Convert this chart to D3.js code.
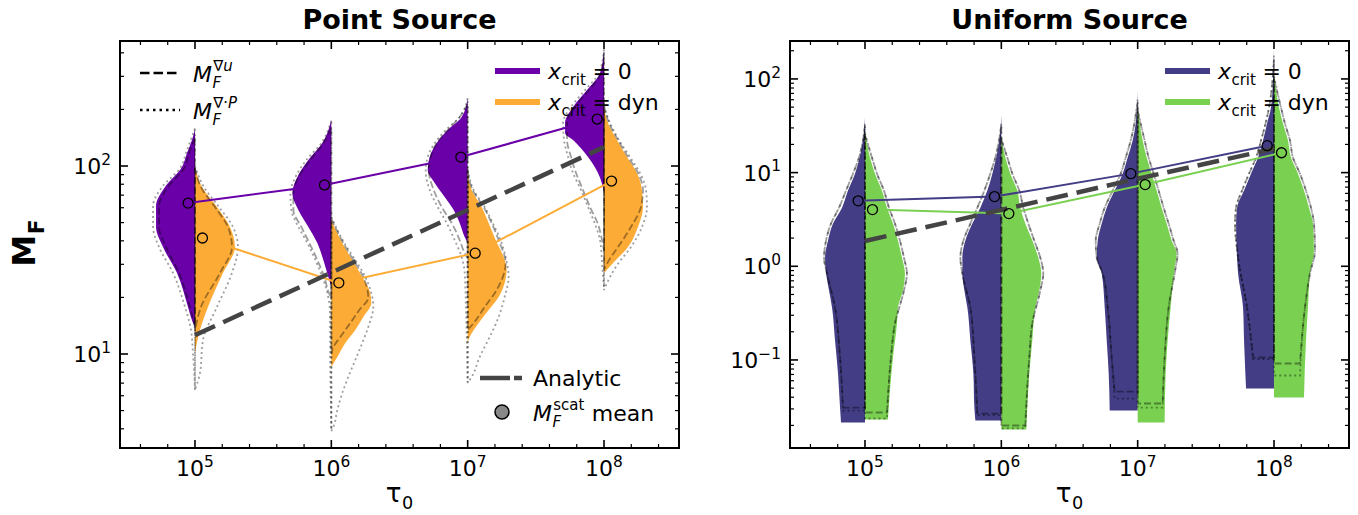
<!DOCTYPE html>
<html>
<head>
<meta charset="utf-8">
<script src="https://cdn.jsdelivr.net/npm/d3@7"></script>
<style>
  body { margin: 0; background: #fff; }
  svg { display: block; font-family: 'DejaVu Sans', sans-serif; }
  text { white-space: pre; }
</style>
</head>
<body>
<div id="chart"></div>
<script>
'use strict';

// log10(tau_0) of each violin
const tauLogs = [5, 6, 7, 8];

// violin profiles: [log10 M_F, relative density], top to bottom
const pointZeroFill = [
  [[2.197,0],[2.138,3],[2.069,8],[1.995,13],[1.888,30],[1.787,39],[1.676,39],[1.569,32],[1.431,18],[1.25,7],[1.18,3],[1.144,0]],
  [[2.245,0],[2.122,9],[2.032,23],[1.941,34],[1.856,39],[1.766,33],[1.676,23],[1.590,14],[1.5,8],[1.410,3],[1.356,0]],
  [[2.362,0],[2.261,6],[2.191,20],[2.122,31],[2.048,38],[1.979,40],[1.910,33],[1.835,23],[1.766,14],[1.697,8],[1.622,3],[1.590,0]],
  [[2.617,0],[2.495,4],[2.404,17],[2.314,31],[2.229,39],[2.176,39],[2.138,31],[2.048,16],[1.963,6],[1.862,0]]
];
const pointZeroGradU = [
  [[2.15,0],[2.069,6],[1.995,10],[1.888,27],[1.787,36],[1.676,36],[1.569,29],[1.431,16],[1.25,5],[1.14,0]],
  [[2.2,0],[2.122,8],[2.032,21],[1.941,33],[1.856,38],[1.766,38],[1.676,30],[1.590,22],[1.5,14],[1.410,7],[1.32,2],[1.3,0]],
  [[2.33,0],[2.261,8],[2.191,20],[2.122,31],[2.048,37],[1.979,39],[1.872,34],[1.782,26],[1.697,16],[1.606,8],[1.537,3],[1.51,0]],
  [[2.6,0],[2.495,3],[2.404,15],[2.314,29],[2.229,37],[2.138,37],[2.048,33],[1.963,28],[1.872,21],[1.782,14],[1.69,6],[1.606,2],[1.55,0]]
];
const pointZeroDivP = [
  [[2.2,0],[2.069,9],[1.995,14],[1.888,33],[1.787,42],[1.676,42],[1.569,36],[1.431,22],[1.25,10],[1.128,4],[1.0,2],[0.809,0]],
  [[2.24,0],[2.122,10],[2.032,25],[1.941,36],[1.856,41],[1.766,40],[1.676,33],[1.590,24],[1.5,16],[1.410,9],[1.324,4],[1.234,1.5],[0.9,1],[0.596,0]],
  [[2.36,0],[2.261,8],[2.191,22],[2.122,33],[2.048,40],[1.979,42],[1.872,38],[1.782,30],[1.697,21],[1.606,13],[1.516,6],[1.431,3],[1.2,1.5],[0.85,0]],
  [[2.62,0],[2.495,5],[2.404,19],[2.314,33],[2.229,41],[2.138,40],[2.048,36],[1.963,31],[1.872,23],[1.782,16],[1.69,9],[1.606,4],[1.45,1.5],[1.356,0]]
];

const pointDynFill = [
  [[1.995,0],[1.888,7],[1.782,22],[1.676,35],[1.569,40],[1.431,28],[1.25,13],[1.128,5],[1.005,0]],
  [[1.713,0],[1.590,11],[1.5,21],[1.410,31],[1.324,39],[1.271,40],[1.197,32],[1.128,24],[1.059,14],[0.984,6],[0.931,0]],
  [[1.968,0],[1.872,4],[1.782,14],[1.697,21],[1.606,28],[1.516,36],[1.447,39],[1.378,37],[1.303,31],[1.234,21],[1.165,11],[1.090,2],[1.064,0]],
  [[2.314,0],[2.229,4],[2.138,13],[2.048,23],[1.963,33],[1.872,38],[1.782,39],[1.676,34],[1.569,24],[1.489,10],[1.431,0]]
];
const pointDynGradU = [
  [[1.99,0],[1.888,6],[1.782,20],[1.676,33],[1.569,37],[1.431,25],[1.25,6],[1.15,1],[1.12,0]],
  [[1.72,0],[1.590,12],[1.5,22],[1.410,32],[1.30,37],[1.234,28],[1.165,19],[1.09,9],[1.037,2],[1.0,0]],
  [[1.97,0],[1.872,5],[1.782,16],[1.697,24],[1.606,31],[1.484,38],[1.34,29],[1.25,17],[1.165,6],[1.128,0]],
  [[2.32,0],[2.229,5],[2.138,14],[2.048,24],[1.963,34],[1.872,39],[1.782,37],[1.676,27],[1.569,14],[1.49,4],[1.45,0]]
];
const pointDynDivP = [
  [[2.0,0],[1.888,9],[1.782,24],[1.676,38],[1.569,43],[1.431,37],[1.25,22],[1.074,8],[0.899,5],[0.809,0]],
  [[1.73,0],[1.590,13],[1.5,24],[1.410,34],[1.25,42],[1.144,37],[1.059,31],[0.968,24],[0.878,17],[0.793,11],[0.702,6],[0.612,2],[0.59,0]],
  [[1.98,0],[1.872,6],[1.782,17],[1.697,25],[1.606,33],[1.516,38],[1.41,41],[1.303,37],[1.197,31],[1.09,22],[0.984,12],[0.878,4],[0.846,0]],
  [[2.32,0],[2.229,6],[2.138,15],[2.048,26],[1.963,36],[1.872,42],[1.782,43],[1.676,38],[1.569,27],[1.48,14],[1.41,6],[1.34,0]]
];

const uniformZeroFill = [
  [[1.587,0],[1.342,2],[0.989,10],[0.808,17],[0.626,23],[0.456,32],[0.274,37],[0.093,40],[-0.078,39],[-0.259,36],[-0.441,33],[-0.793,30],[-1.145,27],[-1.508,25],[-1.668,24]],
  [[1.619,0],[1.342,2],[0.989,9],[0.808,14],[0.626,21],[0.456,29],[0.274,36],[0.093,39],[-0.078,39],[-0.259,37],[-0.441,34],[-0.793,31],[-1.145,28],[-1.508,27],[-1.647,26]],
  [[1.875,0],[1.523,2],[1.342,5],[1.16,10],[0.989,15],[0.808,23],[0.626,31],[0.456,36],[0.274,40],[0.093,41],[-0.078,36],[-0.441,33],[-0.793,31],[-1.145,29],[-1.54,28]],
  [[2.323,0],[1.982,1],[1.694,3],[1.523,7],[1.342,11],[1.16,16],[0.989,23],[0.808,30],[0.626,37],[0.456,38],[0.093,37],[-0.078,36],[-0.441,31],[-0.793,30],[-1.305,28]]
];
const uniformZeroGradU = [
  [[1.50,0],[1.16,6],[0.989,12],[0.808,19],[0.626,26],[0.456,34],[0.274,39],[0.093,41],[-0.078,38],[-0.441,30],[-0.974,25],[-1.508,22]],
  [[1.50,0],[1.16,6],[0.989,11],[0.808,17],[0.626,24],[0.456,31],[0.274,38],[0.093,41],[-0.078,39],[-0.441,31],[-0.974,27],[-1.572,24]],
  [[1.75,0],[1.342,7],[1.16,12],[0.989,17],[0.808,25],[0.626,33],[0.456,38],[0.274,42],[0.093,41],[-0.078,35],[-0.441,30],[-0.974,26],[-1.338,23]],
  [[2.2,0],[1.694,5],[1.342,13],[1.16,18],[0.989,25],[0.808,32],[0.626,38],[0.456,39],[0.093,36],[-0.441,27],[-0.974,21]]
];
const uniformZeroDivP = [
  [[1.52,0],[1.16,6],[0.989,12],[0.808,19],[0.626,26],[0.456,34],[0.274,39],[0.093,41],[-0.078,38],[-0.441,30],[-0.974,25],[-1.54,22]],
  [[1.52,0],[1.16,6],[0.989,11],[0.808,17],[0.626,24],[0.456,31],[0.274,38],[0.093,41],[-0.078,39],[-0.441,31],[-0.974,27],[-1.59,24]],
  [[1.78,0],[1.342,7],[1.16,12],[0.989,17],[0.808,25],[0.626,33],[0.456,38],[0.274,42],[0.093,41],[-0.078,35],[-0.441,30],[-0.974,26],[-1.412,23]],
  [[2.25,0],[1.694,5],[1.342,13],[1.16,18],[0.989,25],[0.808,32],[0.626,38],[0.456,39],[0.093,36],[-0.441,27],[-0.99,21]]
];

const uniformDynFill = [
  [[1.448,0],[1.16,5],[0.989,10],[0.808,17],[0.626,22],[0.456,28],[0.274,33],[0.093,37],[-0.078,40],[-0.259,38],[-0.441,33],[-0.612,32],[-0.974,28],[-1.327,25],[-1.636,23]],
  [[1.374,0],[1.16,4],[0.989,9],[0.808,16],[0.626,19],[0.456,24],[0.274,31],[0.093,37],[-0.078,40],[-0.259,38],[-0.441,34],[-0.793,31],[-1.145,28],[-1.508,26],[-1.743,25]],
  [[1.694,0],[1.342,5],[1.16,9],[0.989,14],[0.808,19],[0.626,24],[0.456,29],[0.274,34],[0.135,39],[-0.014,37],[-0.441,33],[-0.793,30],[-1.145,28],[-1.668,27]],
  [[2.057,0],[1.694,5],[1.523,9],[1.342,14],[1.16,17],[0.989,24],[0.808,30],[0.626,35],[0.456,39],[0.168,40],[-0.078,36],[-0.441,34],[-0.793,32],[-1.401,30]]
];
const uniformDynGradU = [
  [[1.40,0],[1.16,7],[0.989,12],[0.808,19],[0.626,24],[0.456,30],[0.274,35],[0.093,39],[-0.078,42],[-0.259,39],[-0.612,30],[-0.974,26],[-1.561,22]],
  [[1.35,0],[1.16,6],[0.989,11],[0.808,18],[0.626,22],[0.456,27],[0.274,33],[0.093,39],[-0.078,42],[-0.259,39],[-0.612,31],[-0.974,28],[-1.70,24]],
  [[1.65,0],[1.342,7],[1.16,11],[0.989,16],[0.808,21],[0.626,26],[0.456,31],[0.274,36],[0.135,40],[-0.014,38],[-0.441,31],[-0.974,27],[-1.465,25]],
  [[2.0,0],[1.694,7],[1.523,11],[1.342,16],[1.16,19],[0.989,26],[0.808,32],[0.626,37],[0.456,40],[0.168,41],[-0.078,36],[-0.441,31],[-1.038,26]]
];
const uniformDynDivP = [
  [[1.42,0],[1.16,7],[0.989,12],[0.808,19],[0.626,24],[0.456,30],[0.274,35],[0.093,39],[-0.078,42],[-0.259,39],[-0.612,30],[-0.974,26],[-1.625,22]],
  [[1.37,0],[1.16,6],[0.989,11],[0.808,18],[0.626,22],[0.456,27],[0.274,33],[0.093,39],[-0.078,42],[-0.259,39],[-0.612,31],[-0.974,28],[-1.73,24]],
  [[1.68,0],[1.342,7],[1.16,11],[0.989,16],[0.808,21],[0.626,26],[0.456,31],[0.274,36],[0.135,40],[-0.014,38],[-0.441,31],[-0.974,27],[-1.508,25]],
  [[2.03,0],[1.694,7],[1.523,11],[1.342,16],[1.16,19],[0.989,26],[0.808,32],[0.626,37],[0.456,40],[0.168,41],[-0.078,36],[-0.441,31],[-1.166,26]]
];

// M_F^scat means
const pointZeroMean = [63.5, 79.3, 111.6, 177.8];
const pointDynMean = [41.4, 23.9, 34.4, 83.2];
const uniformZeroMean = [5.0, 5.55, 9.75, 19.4];
const uniformDynMean = [4.03, 3.65, 7.45, 16.3];

// analytic prediction
const pointAnalytic = [12.6, 27.1, 58.4, 126];
const uniformAnalytic = [1.86, 4.0, 8.6, 18.0];

// tick exponents
const xTickExps = [5, 6, 7, 8];
const pointYTickExps = [1, 2];
const uniformYTickExps = [-1, 0, 1, 2];

const FULL_WIDTH = 1358;
const FULL_HEIGHT = 515;
const TICK_FS = 22;
const LEGEND_FS = 22;
const X_DOMAIN = [4.45, 8.55];

const widthScale = d3.scaleLinear().domain([0, 40]).range([0, 0.293]);

const panels = [
  {
    left: 120, top: 41, width: 559, height: 407,
    title: 'Point Source',
    yDomain: [Math.pow(10, 0.5), Math.pow(10, 2.665)],
    yTickExps: pointYTickExps,
    analytic: pointAnalytic,
    series: [
      {color: '#6a00a8', fill: pointZeroFill, gradU: pointZeroGradU, divP: pointZeroDivP, mean: pointZeroMean},
      {color: '#fcac36', fill: pointDynFill, gradU: pointDynGradU, divP: pointDynDivP, mean: pointDynMean}
    ],
    showLineLegend: true
  },
  {
    left: 790, top: 41, width: 559, height: 407,
    title: 'Uniform Source',
    yDomain: [Math.pow(10, -1.94), Math.pow(10, 2.405)],
    yTickExps: uniformYTickExps,
    analytic: uniformAnalytic,
    series: [
      {color: '#433d85', fill: uniformZeroFill, gradU: uniformZeroGradU, divP: uniformZeroDivP, mean: uniformZeroMean},
      {color: '#7ad151', fill: uniformDynFill, gradU: uniformDynGradU, divP: uniformDynDivP, mean: uniformDynMean}
    ],
    showLineLegend: false
  }
];

const svg = d3.select('#chart')
  .append('svg')
    .attr('width', FULL_WIDTH)
    .attr('height', FULL_HEIGHT);

// draw text made of runs, with optional sub/superscript stacked after the base
function drawMath(parent, x, y, size, spec) {
  const g = parent.append('g');
  const weight = spec.bold ? 'bold' : 'normal';
  function run(px, py, fs, pieces) {
    const t = g.append('text')
      .attr('x', px)
      .attr('y', py)
      .attr('font-size', fs)
      .attr('font-weight', weight)
      .attr('fill', '#000');
    pieces.forEach(([s, it]) => {
      t.append('tspan').attr('font-style', it ? 'italic' : 'normal').text(s);
    });
    return t.node().getComputedTextLength();
  }
  let cx = x + run(x, y, size, spec.base);
  let w = 0;
  if (spec.sub) w = Math.max(w, run(cx + size * 0.02, y + size * 0.27, size * 0.68, spec.sub));
  if (spec.sup) w = Math.max(w, run(cx + size * 0.06, y - size * 0.5, size * 0.68, spec.sup) + size * 0.04);
  cx += w + (spec.sup ? size * 0.04 : 0);
  if (spec.rest) run(cx, y, size, spec.rest);
  return g;
}

function powerLabel(parent, px, py, exp, anchor) {
  const t = parent.append('text')
    .attr('y', py)
    .attr('font-size', TICK_FS)
    .attr('fill', '#000');
  t.append('tspan').text('10');
  t.append('tspan')
    .attr('dy', -0.42 * TICK_FS)
    .attr('font-size', TICK_FS * 0.7)
    .text(exp < 0 ? '\u2212' + (-exp) : String(exp));
  const w = t.node().getComputedTextLength();
  t.attr('x', anchor === 'middle' ? px - w / 2 : px - w);
}

function halfArea(x, y, cx, side) {
  return d3.area()
    .curve(d3.curveMonotoneY)
    .y((d) => y(Math.pow(10, d[0])))
    .x0(x(cx))
    .x1((d) => x(cx + side * widthScale(d[1])));
}

function drawPanel(p, idx) {
  const g = svg.append('g')
    .attr('transform', 'translate(' + p.left + ',' + p.top + ')');

  const x = d3.scaleLinear().domain(X_DOMAIN).range([0, p.width]);
  const y = d3.scaleLog().domain(p.yDomain).range([p.height, 0]);

  const clipId = 'clip' + idx;
  g.append('clipPath').attr('id', clipId)
    .append('rect').attr('width', p.width).attr('height', p.height);
  const plot = g.append('g').attr('clip-path', 'url(#' + clipId + ')');

  // filled half violins
  p.series.forEach((s, si) => {
    const side = si === 0 ? -1 : 1;
    tauLogs.forEach((t, ti) => {
      plot.append('path')
        .attr('d', halfArea(x, y, t, side)(s.fill[ti]))
        .attr('fill', s.color);
    });
  });

  // outlines of the two other estimators
  p.series.forEach((s, si) => {
    const side = si === 0 ? -1 : 1;
    tauLogs.forEach((t, ti) => {
      plot.append('path')
        .attr('d', halfArea(x, y, t, side)(s.gradU[ti]))
        .attr('fill', 'none')
        .attr('stroke', '#000')
        .attr('stroke-opacity', 0.38)
        .attr('stroke-width', 1.8)
        .attr('stroke-dasharray', '7,3');
      plot.append('path')
        .attr('d', halfArea(x, y, t, side)(s.divP[ti]))
        .attr('fill', 'none')
        .attr('stroke', '#000')
        .attr('stroke-opacity', 0.38)
        .attr('stroke-width', 1.8)
        .attr('stroke-dasharray', '2,3');
    });
  });

  // mean lines
  const offsets = [-0.05, 0.055];
  p.series.forEach((s, si) => {
    const line = d3.line()
      .x((d, i) => x(tauLogs[i] + offsets[si]))
      .y((d) => y(d));
    plot.append('path')
      .attr('d', line(s.mean))
      .attr('fill', 'none')
      .attr('stroke', s.color)
      .attr('stroke-width', 2);
  });

  // analytic
  plot.append('path')
    .attr('d', d3.line().x((d, i) => x(tauLogs[i])).y((d) => y(d))(p.analytic))
    .attr('fill', 'none')
    .attr('stroke', '#444')
    .attr('stroke-width', 4.5)
    .attr('stroke-dasharray', '22,9');

  // mean markers
  p.series.forEach((s, si) => {
    plot.selectAll('.mean' + si)
      .data(s.mean)
      .enter()
      .append('circle')
      .attr('class', 'mean' + si)
      .attr('cx', (d, i) => x(tauLogs[i] + offsets[si]))
      .attr('cy', (d) => y(d))
      .attr('r', 5)
      .attr('fill', 'none')
      .attr('stroke', '#000')
      .attr('stroke-width', 1.3);
  });

  // ticks, inward on all four sides
  const [lo, hi] = p.yDomain;
  const yMinor = [];
  for (let e = Math.floor(Math.log10(lo)); e <= Math.ceil(Math.log10(hi)); e++) {
    for (let m = 2; m <= 9; m++) {
      const v = m * Math.pow(10, e);
      if (v > lo && v < hi) yMinor.push(v);
    }
  }
  const yMajor = p.yTickExps.map((e) => Math.pow(10, e));
  const xMinor = d3.range(4.6, 8.55, 0.2).filter((v) => Math.abs(v - Math.round(v)) > 0.01);
  const ticks = g.append('g').attr('stroke', '#000');
  function yTick(v, len, sw) {
    ticks.append('line').attr('x1', 0).attr('x2', len).attr('y1', y(v)).attr('y2', y(v)).attr('stroke-width', sw);
    ticks.append('line').attr('x1', p.width).attr('x2', p.width - len).attr('y1', y(v)).attr('y2', y(v)).attr('stroke-width', sw);
  }
  function xTick(v, len, sw) {
    ticks.append('line').attr('y1', p.height).attr('y2', p.height - len).attr('x1', x(v)).attr('x2', x(v)).attr('stroke-width', sw);
    ticks.append('line').attr('y1', 0).attr('y2', len).attr('x1', x(v)).attr('x2', x(v)).attr('stroke-width', sw);
  }
  yMinor.forEach((v) => yTick(v, 4, 1.2));
  yMajor.forEach((v) => yTick(v, 8, 1.6));
  xMinor.forEach((v) => xTick(v, 4, 1.2));
  xTickExps.forEach((v) => xTick(v, 8, 1.6));

  g.append('rect')
    .attr('width', p.width)
    .attr('height', p.height)
    .attr('fill', 'none')
    .attr('stroke', '#000')
    .attr('stroke-width', 2);

  // tick labels
  xTickExps.forEach((e) => powerLabel(g, x(e), p.height + 28, e, 'middle'));
  p.yTickExps.forEach((e) => powerLabel(g, -9, y(Math.pow(10, e)) + 8, e, 'end'));

  // title and x label
  g.append('text')
    .attr('x', p.width / 2)
    .attr('y', -12)
    .attr('text-anchor', 'middle')
    .attr('font-size', 27)
    .attr('font-weight', 'bold')
    .text(p.title);

  const xl = drawMath(g, 0, p.height + 54, 26, {base: [['\u03c4', false]], sub: [['0', false]]});
  const xb = xl.node().getBBox();
  xl.attr('transform', 'translate(' + (p.width / 2 - xb.width / 2) + ',0)');

  // legend: colour per x_crit
  const lg = g.append('g');
  const labels = [[' = 0', false], [' = dyn', false]];
  p.series.forEach((s, si) => {
    const ly = 30 + si * 31;
    lg.append('line')
      .attr('x1', 375).attr('x2', 420)
      .attr('y1', ly).attr('y2', ly)
      .attr('stroke', s.color)
      .attr('stroke-width', 6);
    drawMath(lg, 428, ly + 8, LEGEND_FS, {base: [['x', true]], sub: [['crit', false]], rest: [labels[si]]});
  });

  if (p.showLineLegend) {
    // estimator line styles
    const el = g.append('g');
    el.append('line').attr('x1', 20).attr('x2', 60).attr('y1', 32).attr('y2', 32)
      .attr('stroke', '#000').attr('stroke-width', 2.5).attr('stroke-dasharray', '9.5,4');
    drawMath(el, 73, 41, LEGEND_FS, {base: [['M', true]], sub: [['F', true]], sup: [['\u2207', false], ['u', true]]});
    el.append('line').attr('x1', 20).attr('x2', 60).attr('y1', 69).attr('y2', 69)
      .attr('stroke', '#000').attr('stroke-width', 2.5).attr('stroke-dasharray', '2.5,4');
    drawMath(el, 73, 78, LEGEND_FS, {base: [['M', true]], sub: [['F', true]], sup: [['\u2207\u00b7', false], ['P', true]]});

    // analytic and mean markers
    el.append('line').attr('x1', 360).attr('x2', 402).attr('y1', 337).attr('y2', 337)
      .attr('stroke', '#444').attr('stroke-width', 4.5).attr('stroke-dasharray', '30,4');
    el.append('text').attr('x', 413).attr('y', 345).attr('font-size', LEGEND_FS).text('Analytic');
    el.append('circle').attr('cx', 382).attr('cy', 371).attr('r', 7)
      .attr('fill', '#888').attr('stroke', '#000').attr('stroke-width', 1.5);
    drawMath(el, 413, 380, LEGEND_FS, {base: [['M', true]], sub: [['F', true]], sup: [['scat', false]], rest: [[' mean', false]]});
  }
}

panels.forEach((p, i) => drawPanel(p, i));

// shared y label
const yl = svg.append('g').attr('transform', 'translate(35,243) rotate(-90)');
const ylm = drawMath(yl, 0, 0, 32, {base: [['M', false]], sub: [['F', false]], bold: true});
const yb = ylm.node().getBBox();
ylm.attr('transform', 'translate(' + (-yb.width / 2) + ',0)');
</script>
</body>
</html>
